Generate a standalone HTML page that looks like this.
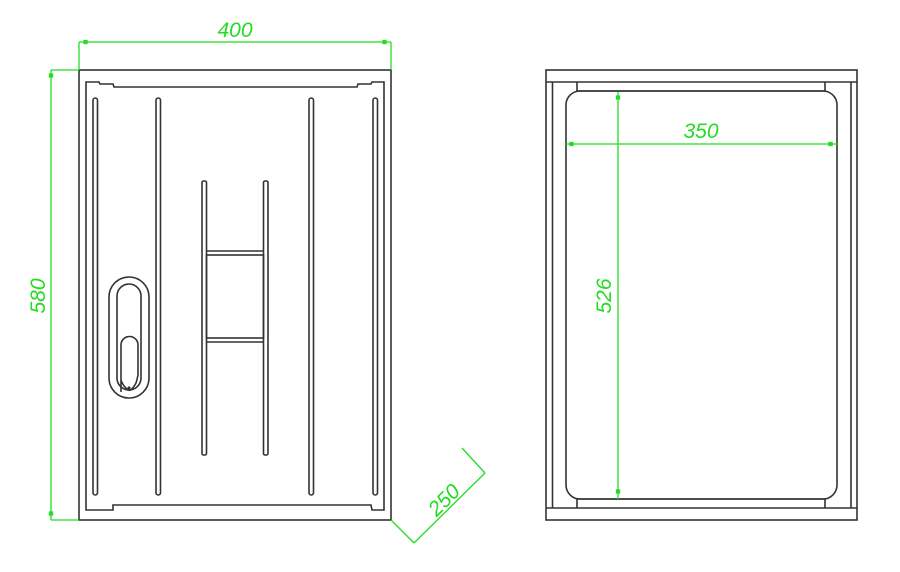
<!DOCTYPE html>
<html><head><meta charset="utf-8"><style>
html,body{margin:0;padding:0;background:#fff;}
svg{display:block;}
text{font-family:"Liberation Sans",sans-serif;font-style:italic;fill:#22dd22;}
</style></head><body>
<svg width="900" height="572" viewBox="0 0 900 572" xmlns="http://www.w3.org/2000/svg">
<g fill="none" stroke="#333" stroke-width="1.6">
  <!-- left view -->
  <rect x="79" y="70" width="312" height="450"/>
  <path d="M86 510 L86 82 L99 82 L100 84 L113 84 L114 87 L357 87 L358 84 L371 84 L372 82 L384 82 L384 510 L372 510 L371 505 L357 505 L357 505 L113 505 L113 510 Z"/>
  <!-- slots -->
  <rect x="93" y="98" width="4.5" height="397" rx="2.2"/>
  <rect x="156" y="98" width="4.5" height="397" rx="2.2"/>
  <rect x="309" y="98" width="4.5" height="397" rx="2.2"/>
  <rect x="373" y="98" width="4.5" height="397" rx="2.2"/>
  <!-- H frame -->
  <rect x="202" y="181" width="4.5" height="274" rx="1.5"/>
  <rect x="263.5" y="181" width="4.5" height="274" rx="1.5"/>
  <line x1="206.5" y1="251" x2="263.5" y2="251"/>
  <rect x="206.5" y="255" width="57" height="83"/>
  <line x1="206.5" y1="342" x2="263.5" y2="342"/>
  <!-- handle -->
  <rect x="109" y="277" width="40" height="121" rx="20"/>
  <rect x="117" y="284" width="24" height="106" rx="12"/>
  <path d="M121 392 L121 345 A8.5 8.5 0 0 1 138 345 L138 375 Q137 380 136 383 Q131 392 128 390 Q123 386 121 380"/>
  <circle cx="129" cy="388" r="0.8"/>
  <!-- right view -->
  <rect x="546" y="70" width="311" height="450"/>
  <line x1="546" y1="82" x2="857" y2="82"/>
  <line x1="546" y1="508" x2="857" y2="508"/>
  <line x1="552.5" y1="82" x2="552.5" y2="508"/>
  <line x1="851" y1="82" x2="851" y2="508"/>
  <path d="M577 82 L577 91 L825 91 L825 82"/>
  <path d="M577 508 L577 499 L825 499 L825 508"/>
  <rect x="566" y="91" width="271" height="408" rx="14"/>
</g>
<g stroke="#22dd22" stroke-width="1.3" fill="#22dd22">
  <!-- 400 -->
  <line x1="79" y1="42" x2="391" y2="42"/>
  <line x1="79" y1="42" x2="79" y2="70"/>
  <line x1="391" y1="42" x2="391" y2="70"/>
  <rect x="84" y="40.5" width="3" height="3"/><rect x="383" y="40.5" width="3" height="3"/>
  <!-- 580 -->
  <line x1="51" y1="70" x2="51" y2="520"/>
  <line x1="51" y1="70" x2="79" y2="70"/>
  <line x1="51" y1="520" x2="79" y2="520"/>
  <rect x="49.5" y="74" width="3" height="3"/><rect x="49.5" y="512" width="3" height="3"/>
  <!-- 250 -->
  <line x1="391" y1="520" x2="414" y2="543"/>
  <line x1="414" y1="543" x2="485" y2="473"/>
  <line x1="462" y1="448" x2="485" y2="473"/>
  <!-- 350 -->
  <line x1="566" y1="144" x2="837" y2="144"/>
  <rect x="570" y="142.5" width="3" height="3"/><rect x="829" y="142.5" width="3" height="3"/>
  <!-- 526 -->
  <line x1="618" y1="92" x2="618" y2="499"/>
  <rect x="616.5" y="96" width="3" height="3"/><rect x="616.5" y="490" width="3" height="3"/>
</g>
<text x="235" y="37" font-size="21" text-anchor="middle">400</text>
<text x="0" y="0" font-size="21" text-anchor="middle" transform="translate(45,296) rotate(-90)">580</text>
<text x="0" y="0" font-size="21" text-anchor="middle" transform="translate(449,505) rotate(-45)">250</text>
<text x="701" y="138" font-size="21" text-anchor="middle">350</text>
<text x="0" y="0" font-size="21" text-anchor="middle" transform="translate(611,296) rotate(-90)">526</text>
</svg>
</body></html>
